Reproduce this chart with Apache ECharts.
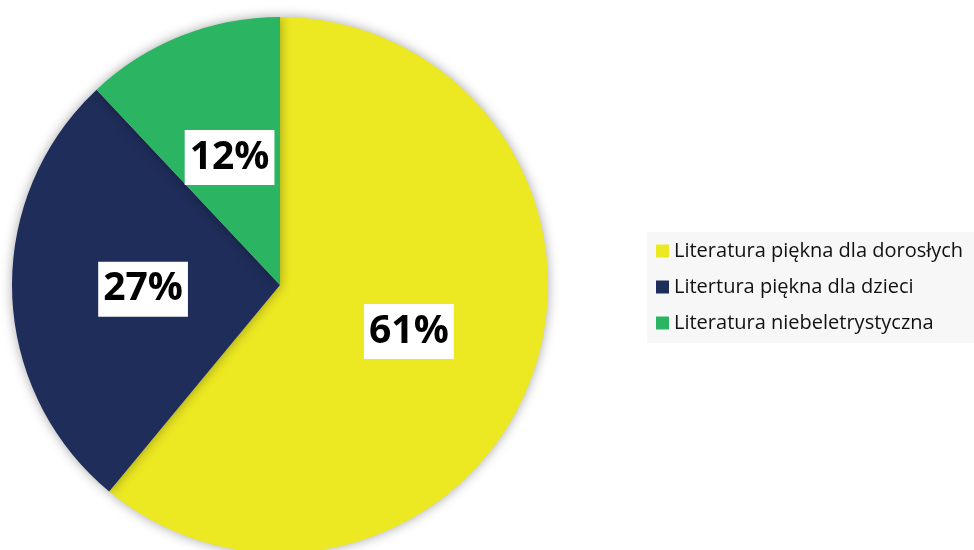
<!DOCTYPE html>
<html>
<head>
<meta charset="utf-8">
<script src="https://cdn.jsdelivr.net/npm/echarts@6/dist/echarts.min.js"></script>
<style>
  html,body{margin:0;padding:0;background:#fff;}
  #chart{width:974px;height:550px;}
</style>
</head>
<body>
<div id="chart"></div>
<script>
// dane wykresu
var categories = ['Literatura piękna dla dorosłych', 'Litertura piękna dla dzieci', 'Literatura niebeletrystyczna'];
var shares = [61, 27, 12];
var colors = ['#ece822', '#1f2d5a', '#2bb562'];

var pieData = [];
categories.forEach(function (name, i) {
  pieData.push({ name: name, value: shares[i], itemStyle: { color: colors[i] } });
});

var chart = echarts.init(document.getElementById('chart'));
chart.setOption({
  animation: false,
  legend: {
    orient: 'vertical',
    left: 647,
    top: 232,
    backgroundColor: '#f7f7f7',
    padding: [7, 12, 8, 9],
    itemWidth: 13,
    itemHeight: 13,
    itemGap: 12,
    icon: 'rect',
    textStyle: { fontFamily: 'Open Sans', fontSize: 20, color: '#111', lineHeight: 24 },
    data: categories
  },
  series: [{
    type: 'pie',
    center: [280, 285],
    radius: 268,
    startAngle: 90,
    clockwise: true,
    itemStyle: { shadowBlur: 12, shadowColor: 'rgba(0,0,0,0.35)' },
    label: {
      position: 'inside',
      formatter: '{c}%',
      fontFamily: 'Open Sans',
      fontWeight: 'bold',
      fontSize: 39,
      color: '#000',
      backgroundColor: '#fff',
      padding: [10, 5, 6, 5]
    },
    labelLine: { show: false },
    emphasis: { disabled: true },
    data: pieData
  }]
});
</script>
</body>
</html>
